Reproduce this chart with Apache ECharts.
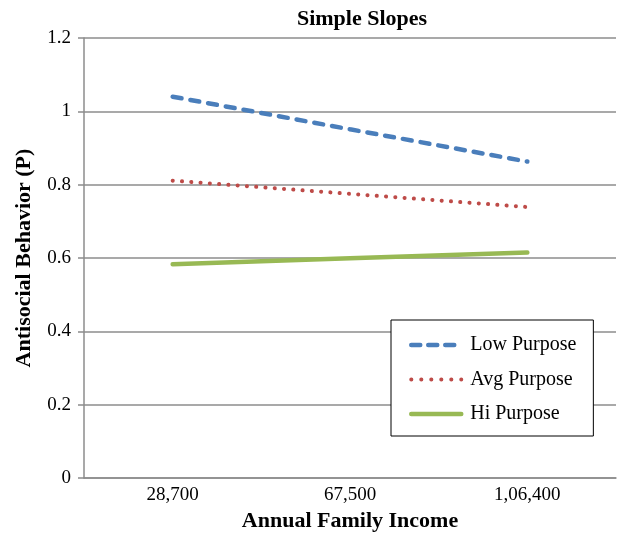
<!DOCTYPE html>
<html>
<head>
<meta charset="utf-8">
<script src="https://cdn.jsdelivr.net/npm/echarts@6/dist/echarts.min.js"></script>
<style>
  html, body { margin: 0; padding: 0; background: #fff; }
  #chart { width: 617px; height: 536px; }
</style>
</head>
<body>
<div id="chart"></div>
<script>
// Income levels on the horizontal axis
var incomeLabels = ['28,700', '67,500', '1,06,400'];

// Predicted antisocial behaviour for each purpose level
var lowPurpose = [1.04, 0.951, 0.863];
var avgPurpose = [0.811, 0.775, 0.739];
var hiPurpose  = [0.583, 0.599, 0.615];

var seriesNames = ['Low Purpose', 'Avg Purpose', 'Hi Purpose'];

var serif = '"Liberation Serif", "Times New Roman", serif';
var gridGray = '#8c8c8c';

var lowStyle = { color: '#4a7ebb', width: 4.5, type: [9, 9], cap: 'round' };
var avgStyle = { color: '#be4b48', width: 4, type: [0.1, 9.2], cap: 'round' };
var hiStyle  = { color: '#98b954', width: 4.5, cap: 'round' };

var chart = echarts.init(document.getElementById('chart'), null, { renderer: 'canvas' });

chart.setOption({
  animation: false,
  backgroundColor: '#ffffff',
  title: {
    text: 'Simple Slopes',
    left: 357,
    textAlign: 'center',
    top: 3,
    textStyle: { fontFamily: serif, fontWeight: 'bold', fontSize: 22, color: '#000' }
  },
  grid: { left: 84, right: 1, top: 38, bottom: 58, containLabel: false, outerBoundsMode: 'none' },
  legend: {
    orient: 'vertical',
    left: 391,
    top: 320,
    padding: [15, 17, 12, 18],
    itemGap: 14.5,
    itemWidth: 50,
    itemHeight: 20,
    borderColor: '#000',
    borderWidth: 1,
    backgroundColor: '#fff',
    itemStyle: { opacity: 0 },
    textStyle: { fontFamily: serif, fontSize: 20, color: '#000', padding: [0, 0, 0, 4] },
    data: [
      { name: seriesNames[0], lineStyle: { width: 4.5, type: [9, 8], cap: 'round' } },
      { name: seriesNames[1], lineStyle: { width: 4, type: [0.1, 9.9], cap: 'round' } },
      { name: seriesNames[2], lineStyle: { width: 4.5, cap: 'round' } }
    ]
  },
  xAxis: {
    type: 'category',
    data: incomeLabels,
    boundaryGap: true,
    name: 'Annual Family Income',
    nameLocation: 'middle',
    nameGap: 31,
    nameTextStyle: { fontFamily: serif, fontWeight: 'bold', fontSize: 22, color: '#000' },
    axisLine: { lineStyle: { color: gridGray, width: 1.5 } },
    axisTick: { show: false },
    axisLabel: { fontFamily: serif, fontSize: 19, color: '#000', margin: 8 }
  },
  yAxis: {
    type: 'value',
    min: 0,
    max: 1.2,
    interval: 0.2,
    name: 'Antisocial Behavior (P)',
    nameLocation: 'middle',
    nameGap: 49,
    nameTextStyle: { fontFamily: serif, fontWeight: 'bold', fontSize: 22, color: '#000' },
    axisLine: { show: true, lineStyle: { color: gridGray, width: 1.5 } },
    axisTick: { show: true, length: 6, lineStyle: { color: gridGray, width: 1.5 } },
    axisLabel: { fontFamily: serif, fontSize: 19, color: '#000', margin: 13 },
    splitLine: { show: true, lineStyle: { color: gridGray, width: 1.5 } }
  },
  series: [
    {
      name: seriesNames[0],
      type: 'line',
      data: lowPurpose,
      symbol: 'none',
      color: lowStyle.color,
      lineStyle: lowStyle
    },
    {
      name: seriesNames[1],
      type: 'line',
      data: avgPurpose,
      symbol: 'none',
      color: avgStyle.color,
      lineStyle: avgStyle
    },
    {
      name: seriesNames[2],
      type: 'line',
      data: hiPurpose,
      symbol: 'none',
      color: hiStyle.color,
      lineStyle: hiStyle
    }
  ]
});
</script>
</body>
</html>
